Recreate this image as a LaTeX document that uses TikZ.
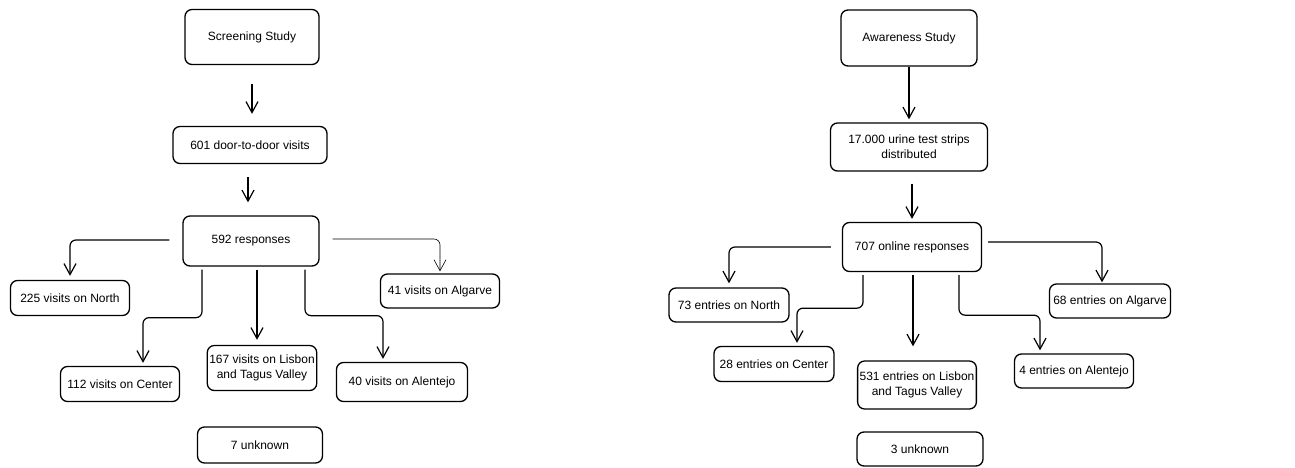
\documentclass[tikz,border=0pt]{standalone}
\usepackage{fontspec}
\setmainfont{Liberation Sans}
\usetikzlibrary{arrows.meta}

\tikzset{
  box/.style={draw, rounded corners=7pt, line width=1.3pt, align=center, inner sep=2pt,
    font=\fontsize{12}{15}\selectfont},
  link/.style={->, line width=1.2pt, rounded corners=6pt},
}

\begin{document}
\begin{tikzpicture}[x=1pt,y=1pt,>={Straight Barb[length=11pt,width=12pt]}]
\useasboundingbox (0,0) rectangle (1295,467);

% screening study
\node[box, minimum width=134, minimum height=55] (screen) at (252,430) {Screening Study};
\node[box, minimum width=154, minimum height=37] (door) at (250,322) {601 door-to-door visits};
\node[box, minimum width=136, minimum height=50] (resp) at (251,226) {592 responses};
\node[box, minimum width=119, minimum height=35] (lnorth) at (70,169) {225 visits on North};
\node[box, minimum width=119, minimum height=34] (lalg) at (440,176) {41 visits on Algarve};
\node[box, minimum width=119, minimum height=35] (lcent) at (120,83) {112 visits on Center};
\node[box, minimum width=106, minimum height=45] (llis) at (262,99) {167 visits on Lisbon\\and Tagus Valley};
\node[box, minimum width=131, minimum height=39] (lalen) at (402,85) {40 visits on Alentejo};
\node[box, minimum width=125, minimum height=36] (lunk) at (260,22) {7 unknown};

\draw[link, shorten <=19pt, shorten >=12pt] (screen.south) -- (screen.south |- door.north);
\draw[link, shorten <=13pt, shorten >=13pt] ([xshift=-2pt]door.south) -- ([xshift=-3pt]resp.north);
\draw[link, shorten >=4pt] ([xshift=-13pt,yshift=1pt]resp.west) -| (lnorth.north);
\draw[link, line width=0.6pt, shorten >=2pt] ([xshift=13pt,yshift=2pt]resp.east) -| (lalg.north);
\draw[link, shorten >=3pt] ([xshift=-49pt,yshift=-3pt]resp.south) -- ++(0,-48) -| ([xshift=23pt]lcent.north);
\draw[link, shorten >=5pt] ([xshift=6pt,yshift=-3pt]resp.south) -- ([xshift=-5pt]llis.north);
\draw[link, shorten >=3pt] ([xshift=54pt,yshift=-3pt]resp.south) -- ++(0,-46) -| ([xshift=-19pt]lalen.north);

% awareness study
\node[box, minimum width=136, minimum height=56] (aware) at (909,429) {Awareness Study};
\node[box, minimum width=157, minimum height=48] (strips) at (909,320) {17.000 urine test strips\\distributed};
\node[box, minimum width=139, minimum height=49] (online) at (912,220) {707 online responses};
\node[box, minimum width=120, minimum height=34] (rnorth) at (729,162) {73 entries on North};
\node[box, minimum width=121, minimum height=34] (ralg) at (1110,166) {68 entries on Algarve};
\node[box, minimum width=120, minimum height=35] (rcent) at (774,103) {28 entries on Center};
\node[box, minimum width=118, minimum height=48] (rlis) at (917,82) {531 entries on Lisbon\\and Tagus Valley};
\node[box, minimum width=119, minimum height=34] (ralen) at (1074,96) {4 entries on Alentejo};
\node[box, minimum width=126, minimum height=34] (runk) at (920,18) {3 unknown};

\draw[link, shorten >=3pt] (aware.south) -- (strips.north);
\draw[link, shorten <=12pt, shorten >=3pt] ([xshift=3pt]strips.south) -- (online.north);
\draw[link, shorten >=4pt] ([xshift=-11pt]online.west) -| (rnorth.north);
\draw[link, shorten >=1pt] ([xshift=6pt,yshift=5pt]online.east) -| ([xshift=-8pt]ralg.north);
\draw[link, shorten >=3pt] ([xshift=-49pt,yshift=-3pt]online.south) -- ++(0,-33) -| ([xshift=23pt]rcent.north);
\draw[link, shorten >=14pt] ([xshift=1pt,yshift=-3pt]online.south) -- ([xshift=-4pt]rlis.north);
\draw[link, shorten >=3pt] ([xshift=47pt,yshift=-3pt]online.south) -- ++(0,-40) -| ([xshift=-34pt]ralen.north);
\end{tikzpicture}
\end{document}
